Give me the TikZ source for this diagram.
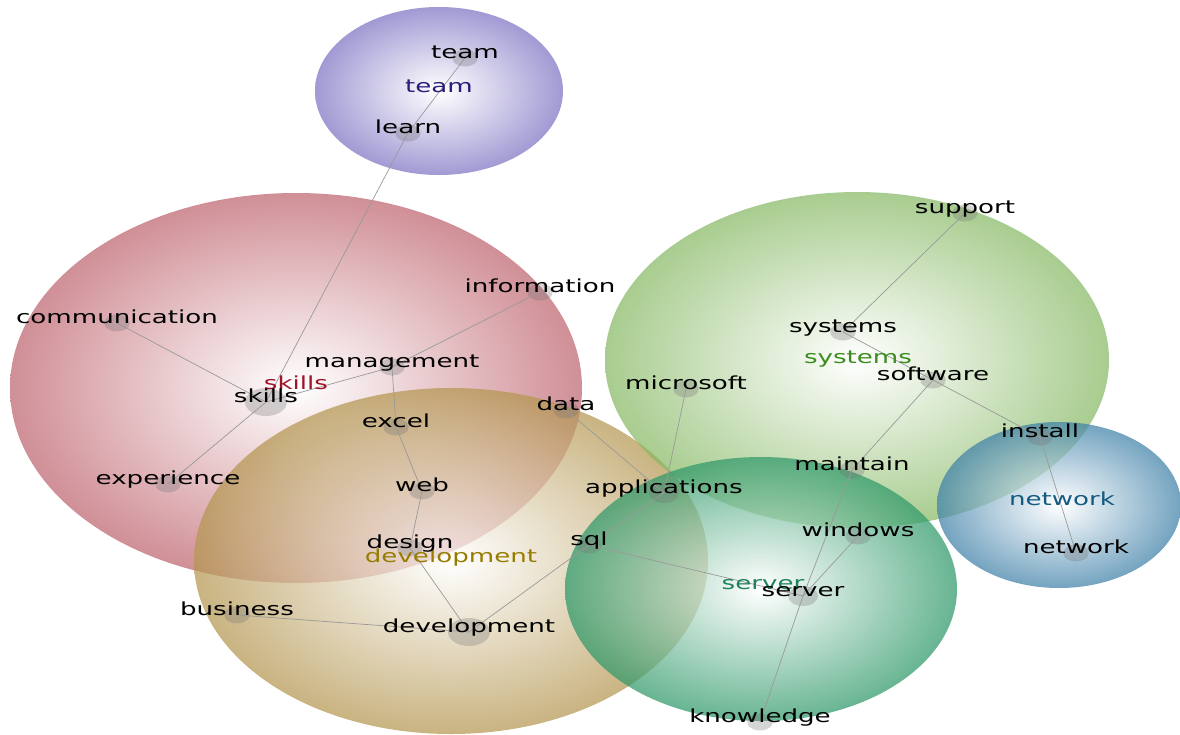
\documentclass[tikz,border=0pt]{standalone}
\usepackage{fontspec}
\setmainfont{DejaVu Sans}
\usepackage{xcolor}
\usetikzlibrary{positioning}
\definecolor{lilac}{RGB}{125,115,195}
\definecolor{rose}{RGB}{190,100,110}
\definecolor{sand}{RGB}{180,150,80}
\definecolor{leaf}{RGB}{135,185,100}
\definecolor{jade}{RGB}{45,152,104}
\definecolor{steel}{RGB}{62,128,168}
\definecolor{navy}{RGB}{40,30,120}
\definecolor{wine}{RGB}{160,20,40}
\definecolor{olive}{RGB}{150,125,0}
\definecolor{grass}{RGB}{60,140,30}
\definecolor{teal}{RGB}{30,130,90}
\definecolor{ocean}{RGB}{20,90,130}

\begin{document}
\begin{tikzpicture}[
  x=1pt,y=-1pt,
  bubble/.style={shading=radial,inner color=white,outer color=#1,fill opacity=0.72},
  dot/.style={circle,fill=black!55,fill opacity=0.3,inner sep=0pt,minimum size=17pt,xscale=1.5},
  bigdot/.style={dot,minimum size=28pt},
  middot/.style={dot,minimum size=20pt},
  word/.style={anchor=base,inner sep=0pt,font=\fontsize{18}{20}\selectfont,text=black,xscale=1.45},
  topic/.style={word,text=#1},
  edge/.style={draw=black!40,line width=0.7pt}
]
\useasboundingbox (0,0) rectangle (1180,734);

\shade[bubble=lilac] (439,91) ellipse (124 and 84);
\shade[bubble=rose] (296,388) ellipse (286 and 195);
\shade[bubble=sand] (451,561) ellipse (257 and 173);
\shade[bubble=leaf] (857,360) ellipse (252 and 168);
\shade[bubble=jade] (761,589) ellipse (196 and 132);
\shade[bubble=steel] (1059,505) ellipse (122 and 83);

\node[dot] (team) at (465,58) {};
\node[dot] (learn) at (408,133) {};
\node[dot] (support) at (965,213) {};
\node[dot] (information) at (540,292) {};
\node[dot] (communication) at (117,323) {};
\node[dot] (systems) at (843,332) {};
\node[dot] (management) at (392,367) {};
\node[dot] (software) at (933,380) {};
\node[dot] (microsoft) at (686,389) {};
\node[bigdot] (skills) at (266,402) {};
\node[dot] (data) at (566,410) {};
\node[dot] (excel) at (396,427) {};
\node[dot] (install) at (1040,437) {};
\node[dot] (maintain) at (852,470) {};
\node[dot] (experience) at (168,484) {};
\node[dot] (web) at (422,491) {};
\node[middot] (applications) at (664,493) {};
\node[dot] (windows) at (858,536) {};
\node[dot] (sql) at (589,545) {};
\node[dot] (design) at (410,548) {};
\node[dot] (network) at (1076,553) {};
\node[middot] (server) at (803,596) {};
\node[dot] (business) at (237,615) {};
\node[bigdot] (development) at (469,632) {};
\node[dot] (knowledge) at (760,722) {};

\draw[edge] (team.center) -- (learn.center);
\draw[edge] (learn.center) -- (skills.center);
\draw[edge] (communication.center) -- (skills.center);
\draw[edge] (experience.center) -- (skills.center);
\draw[edge] (skills.center) -- (management.center);
\draw[edge] (management.center) -- (information.center);
\draw[edge] (management.center) -- (excel.center);
\draw[edge] (excel.center) -- (web.center);
\draw[edge] (web.center) -- (design.center);
\draw[edge] (design.center) -- (development.center);
\draw[edge] (business.center) -- (development.center);
\draw[edge] (development.center) -- (sql.center);
\draw[edge] (sql.center) -- (applications.center);
\draw[edge] (sql.center) -- (server.center);
\draw[edge] (data.center) -- (applications.center);
\draw[edge] (microsoft.center) -- (applications.center);
\draw[edge] (systems.center) -- (support.center);
\draw[edge] (systems.center) -- (software.center);
\draw[edge] (software.center) -- (install.center);
\draw[edge] (install.center) -- (network.center);
\draw[edge] (software.center) -- (maintain.center);
\draw[edge] (maintain.center) -- (server.center);
\draw[edge] (windows.center) -- (server.center);
\draw[edge] (server.center) -- (knowledge.center);

\node[topic=navy] (teamC) at (439,92) {team};
\node[topic=wine] (skillsC) at (296,389) {skills};
\node[topic=olive] (developmentC) at (451,562) {development};
\node[topic=grass] (systemsC) at (858,363) {systems};
\node[topic=teal] (serverC) at (763,589) {server};
\node[topic=ocean] (networkC) at (1062,505) {network};

\node[word] (teamL) at (team) {team};
\node[word] (learnL) at (learn) {learn};
\node[word] (supportL) at (support) {support};
\node[word] (informationL) at (information) {information};
\node[word] (communicationL) at (communication) {communication};
\node[word] (systemsL) at (systems) {systems};
\node[word] (managementL) at (management) {management};
\node[word] (softwareL) at (software) {software};
\node[word] (microsoftL) at (microsoft) {microsoft};
\node[word] (skillsL) at (skills) {skills};
\node[word] (dataL) at (data) {data};
\node[word] (excelL) at (excel) {excel};
\node[word] (installL) at (install) {install};
\node[word] (maintainL) at (maintain) {maintain};
\node[word] (experienceL) at (experience) {experience};
\node[word] (webL) at (web) {web};
\node[word] (applicationsL) at (applications) {applications};
\node[word] (windowsL) at (windows) {windows};
\node[word] (sqlL) at (sql) {sql};
\node[word] (designL) at (design) {design};
\node[word] (networkL) at (network) {network};
\node[word] (serverL) at (server) {server};
\node[word] (businessL) at (business) {business};
\node[word] (developmentL) at (development) {development};
\node[word] (knowledgeL) at (knowledge) {knowledge};
\end{tikzpicture}
\end{document}
